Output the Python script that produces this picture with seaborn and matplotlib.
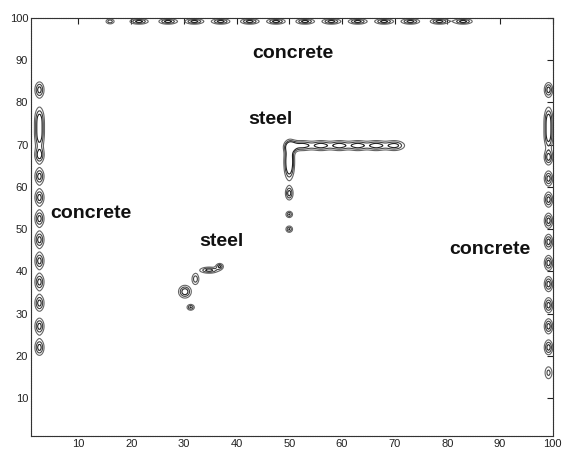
import numpy as np
import matplotlib
matplotlib.use("Agg")
import matplotlib.pyplot as plt
import seaborn as sns

# ---- data ----
top_x = [16, 21.5, 27, 32, 37, 42.5, 47.5, 53, 58, 63, 68, 73, 78.5, 83]
top_y = [99.2] * len(top_x)
left_y = [22, 27, 32.5, 37.5, 42.5, 47.5, 52.5, 57.5, 62.5, 67.5, 72, 76, 83]
right_y = [16, 22, 27, 32, 37, 42, 47, 52, 57, 62, 67, 72, 76, 83]
steel_h_x = [52.5, 56, 59.5, 63, 66.5, 70]
steel_h_y = [69.8] * len(steel_h_x)
steel_v_y = [50, 53.5, 58.5, 64.5, 67.5]
diag_x = [30.2, 31.3, 32.2, 34.8, 36.8]
diag_y = [35.2, 31.5, 38.2, 40.3, 41.2]

labels = ["concrete", "steel", "concrete", "steel", "concrete"]
label_x = [50.7, 46.5, 12.3, 37.2, 88.0]
label_y = [91.5, 76.0, 53.8, 47.0, 45.2]

xticks = [10, 20, 30, 40, 50, 60, 70, 80, 90, 100]
yticks = [10, 20, 30, 40, 50, 60, 70, 80, 90, 100]

# ---- build field ----
gx = np.arange(0.5, 100.75, 0.25)
gy = np.arange(0.5, 100.75, 0.25)
X, Y = np.meshgrid(gx, gy)
Z = np.zeros_like(X)

def add(cx, cy, sx, sy, a=1.0):
    global Z
    Z += a * np.exp(-((X - cx) ** 2 / (2 * sx ** 2) + (Y - cy) ** 2 / (2 * sy ** 2)))

for i, (x, y) in enumerate(zip(top_x, top_y)):
    add(x, y, 0.6 if i == 0 else 1.2, 0.45, 0.8 if i == 0 else 1.0)
for y in left_y:
    add(2.6, y, 0.6, 1.3 if y not in (72, 76) else 2.0)
for y in right_y:
    add(99.2, y, 0.55, 1.2 if y not in (72, 76) else 2.0, 0.7 if y == 16 else 1.0)
for x, y in zip(steel_h_x, steel_h_y):
    add(x, y, 1.3, 0.8)
add(50.3, 69.6, 0.8, 0.9)
for y in steel_v_y:
    if y >= 64:
        add(50.0, y, 0.6, 2.0)
    elif y == 58.5:
        add(50.0, y, 0.5, 1.1)
    else:
        add(50.0, y, 0.45, 0.55, 0.9)
for i, (x, y) in enumerate(zip(diag_x, diag_y)):
    if i == 0:
        add(x, y, 0.8, 1.0, 1.1)
    elif i == 2:
        add(x, y, 0.5, 1.0, 0.8)
    elif i == 3:
        add(x, y, 1.2, 0.5)
    else:
        add(x, y, 0.5, 0.5, 0.9)

# ---- plot ----
sns.set_style("white")
plt.rcParams['font.family'] = ['Liberation Sans', 'DejaVu Sans']
fig = plt.figure(figsize=(5.64, 4.51), dpi=100)
ax = fig.add_axes([0.055, 0.033, 0.925, 0.927])
ax.contour(X, Y, Z, levels=[0.35, 0.6, 0.85], colors=["#666666", "#444444", "#222222"],
           linewidths=0.8)

for t, x, y in zip(labels, label_x, label_y):
    ax.text(x, y, t, fontsize=14, fontweight="bold", ha="center", va="center",
            color="#111111")

ax.set_xlim(1, 100)
ax.set_ylim(1, 100)
ax.set_xticks(xticks)
ax.set_yticks(yticks)
ax.tick_params(direction="in", length=4, labelsize=8, colors="#222222", pad=2,
               top=True, right=True)
for s in ax.spines.values():
    s.set_color("#333333")
    s.set_linewidth(0.8)
    s.set_linestyle((0, (1, 0.6)))

fig.savefig("out.png", dpi=100)
